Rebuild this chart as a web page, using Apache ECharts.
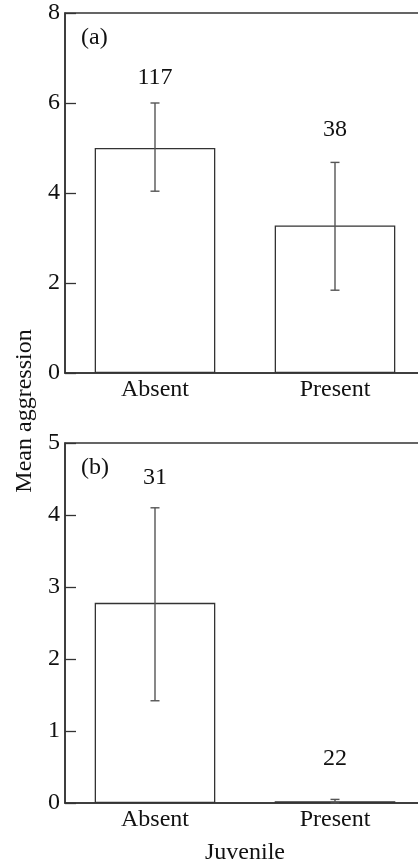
<!DOCTYPE html>
<html>
<head>
<meta charset="utf-8">
<script src="https://cdn.jsdelivr.net/npm/echarts@6/dist/echarts.min.js"></script>
<style>html,body{margin:0;padding:0;background:#fff;}#c{width:418px;height:864px;}</style>
</head>
<body>
<div id="c"></div>
<script>
var categories = ['Absent', 'Present'];
// Panel (a)
var meanA = [5.0, 3.28];
var lowA = [4.04, 1.84];
var highA = [6.0, 4.68];
var nA = ['117', '38'];
var nPosA = [6.56, 5.4];
// Panel (b)
var meanB = [2.78, 0.025];
var lowB = [1.42, 0.0];
var highB = [4.10, 0.05];
var nB = ['31', '22'];
var nPosB = [4.52, 0.62];
var ticksA = {min: 0, max: 8, interval: 2};
var ticksB = {min: 0, max: 5, interval: 1};

var FONT = 'Liberation Serif';
var INK = '#333';
var FS = 24;

function errSeries(axisIdx, low, high) {
  return {
    type: 'custom', xAxisIndex: axisIdx, yAxisIndex: axisIdx, z: 5,
    data: low.map(function (l, i) { return [i, l, high[i]]; }),
    renderItem: function (params, api) {
      var x = api.value(0);
      var lo = api.coord([x, api.value(1)]);
      var hi = api.coord([x, api.value(2)]);
      var hw = 4.5;
      var st = {stroke: '#555', lineWidth: 1.4};
      return {type: 'group', children: [
        {type: 'line', shape: {x1: lo[0], y1: lo[1], x2: hi[0], y2: hi[1]}, style: st},
        {type: 'line', shape: {x1: lo[0] - hw, y1: lo[1], x2: lo[0] + hw, y2: lo[1]}, style: st},
        {type: 'line', shape: {x1: hi[0] - hw, y1: hi[1], x2: hi[0] + hw, y2: hi[1]}, style: st}
      ]};
    }
  };
}
function nSeries(axisIdx, labels, pos) {
  return {
    type: 'custom', xAxisIndex: axisIdx, yAxisIndex: axisIdx, z: 6,
    data: pos.map(function (p, i) { return [i, p]; }),
    renderItem: function (params, api) {
      var pt = api.coord([api.value(0), api.value(1)]);
      return {type: 'text', style: {x: pt[0], y: pt[1], text: labels[params.dataIndex],
        font: FS + 'px "' + FONT + '"', fill: '#111', align: 'center', verticalAlign: 'middle'}};
    }
  };
}
function barSeries(axisIdx, data) {
  return {
    type: 'bar', xAxisIndex: axisIdx, yAxisIndex: axisIdx, data: data,
    barCategoryGap: '33%',
    itemStyle: {color: '#fff', borderColor: INK, borderWidth: 1.3},
    silent: true
  };
}
function xAx(gi, name) {
  return {
    type: 'category', gridIndex: gi, data: categories,
    axisLine: {lineStyle: {color: INK, width: 1.5}},
    axisTick: {show: false},
    axisLabel: {color: '#111', fontFamily: FONT, fontSize: FS, margin: 5},
    name: name, nameLocation: 'middle', nameGap: 38,
    nameTextStyle: {color: '#111', fontFamily: FONT, fontSize: FS}
  };
}
function yAx(gi, t) {
  return {
    type: 'value', gridIndex: gi, min: t.min, max: t.max, interval: t.interval,
    axisLine: {show: true, lineStyle: {color: INK, width: 1.5}},
    axisTick: {show: true, inside: true, length: 11, lineStyle: {color: INK, width: 1.3}},
    axisLabel: {color: '#111', fontFamily: FONT, fontSize: FS, margin: 5},
    splitLine: {show: false}
  };
}

var chart = echarts.init(document.getElementById('c'));
chart.setOption({
  animation: false,
  backgroundColor: '#fff',
  grid: [
    {left: 65, top: 13, width: 360, height: 360, show: true, borderColor: INK, borderWidth: 1.5,
      backgroundColor: 'transparent', containLabel: false, outerBoundsMode: 'none'},
    {left: 65, top: 443, width: 360, height: 360, show: true, borderColor: INK, borderWidth: 1.5,
      backgroundColor: 'transparent', containLabel: false, outerBoundsMode: 'none'}
  ],
  xAxis: [xAx(0, ''), xAx(1, 'Juvenile')],
  yAxis: [yAx(0, ticksA), yAx(1, ticksB)],
  graphic: [
    {type: 'text', left: 81, top: 26, style: {text: '(a)', font: FS + 'px "' + FONT + '"', fill: '#111'}},
    {type: 'text', left: 81, top: 456, style: {text: '(b)', font: FS + 'px "' + FONT + '"', fill: '#111'}},
    {type: 'text', x: 25, y: 411, rotation: Math.PI / 2,
      style: {text: 'Mean aggression', font: FS + 'px "' + FONT + '"', fill: '#111', align: 'center', verticalAlign: 'middle'}}
  ],
  series: [
    barSeries(0, meanA), errSeries(0, lowA, highA), nSeries(0, nA, nPosA),
    barSeries(1, meanB), errSeries(1, lowB, highB), nSeries(1, nB, nPosB)
  ]
});
</script>
</body>
</html>
